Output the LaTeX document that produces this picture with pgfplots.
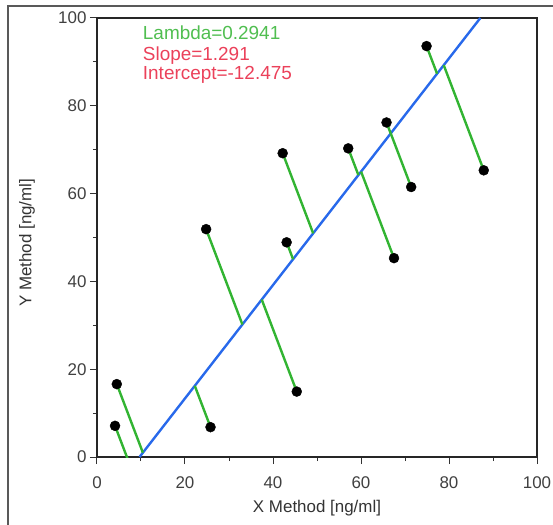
\documentclass[border=0pt]{standalone}
\usepackage{fontspec}
\setmainfont{Liberation Sans}
\usepackage{pgfplots}
\pgfplotsset{compat=1.18}
\definecolor{segGreen}{RGB}{50,180,50}
\definecolor{fitBlue}{RGB}{40,105,235}
\definecolor{txtGreen}{RGB}{80,190,80}
\definecolor{txtRed}{RGB}{235,65,90}
\begin{document}
\begin{tikzpicture}
\useasboundingbox (-97bp,-68bp) rectangle (456bp,457bp);
\draw[line width=1.6bp, color=black!65] (-89bp,-70bp) -- (-89bp,451bp) -- (460bp,451bp);
\begin{axis}[
  at={(0,0)}, anchor=south west,
  scale only axis, width=440bp, height=439bp,
  xmin=0, xmax=100, ymin=0, ymax=100,
  xtick={0,20,...,100}, ytick={0,20,...,100},
  minor xtick={10,30,...,90}, minor ytick={10,30,...,90},
  xtick pos=bottom, ytick pos=left,
  tick align=outside,
  major tick length=7bp, minor tick length=4bp,
  tick style={line width=1bp, black!80},
  axis line style={line width=1.2bp, black!85},
  /pgf/number format/assume math mode=true,
  ticklabel style={font=\fontsize{17}{17}\selectfont, text=black!75},
  xticklabel style={yshift=-9bp},
  label style={font=\fontsize{17}{17}\selectfont, text=black!80},
  xlabel={X Method [ng/ml]},
  ylabel={Y Method [ng/ml]},
  xlabel style={at={(axis description cs:0.5,-0.116)}, anchor=center},
  ylabel style={at={(axis description cs:-0.159,0.488)}, anchor=center},
  seg/.style={segGreen, line width=2.4bp, no marks},
]
% Deming regression line y = 1.291 x - 12.475
\addplot[fitBlue, line width=2.4bp, no marks] coordinates {(9.663,0) (87.123,100)};
% residual segments (point -> fitted point)
\addplot[seg] coordinates {(4.1,7.1) (7.739,-2.484)};
\addplot[seg] coordinates {(4.5,16.6) (10.428,0.987)};
\addplot[seg] coordinates {(25.8,6.8) (22.225,16.217)};
\addplot[seg] coordinates {(24.8,51.9) (33.044,30.186)};
\addplot[seg] coordinates {(45.4,14.9) (37.441,35.861)};
\addplot[seg] coordinates {(43.1,48.9) (44.561,45.053)};
\addplot[seg] coordinates {(42.2,69.2) (49.129,50.950)};
\addplot[seg] coordinates {(57.1,70.3) (59.408,64.221)};
\addplot[seg] coordinates {(67.5,45.3) (60.017,65.008)};
\addplot[seg] coordinates {(65.8,76.2) (66.750,73.699)};
\addplot[seg] coordinates {(71.4,61.5) (66.762,73.714)};
\addplot[seg] coordinates {(74.9,93.6) (77.290,87.306)};
\addplot[seg] coordinates {(87.9,65.3) (78.803,89.260)};
% data points
\addplot[only marks, mark=*, mark size=5bp, black] coordinates {
  (4.1,7.1) (4.5,16.6) (25.8,6.8) (24.8,51.9) (45.4,14.9) (43.1,48.9)
  (42.2,69.2) (57.1,70.3) (67.5,45.3) (65.8,76.2) (71.4,61.5) (74.9,93.6) (87.9,65.3)
};
\node[anchor=base west, text=txtGreen, font=\fontsize{19}{19}\selectfont, inner sep=0pt] at (axis cs:10.4,95.0) {Lambda=0.2941};
\node[anchor=base west, text=txtRed, font=\fontsize{19}{19}\selectfont, inner sep=0pt] at (axis cs:10.4,90.4) {Slope=1.291};
\node[anchor=base west, text=txtRed, font=\fontsize{19}{19}\selectfont, inner sep=0pt] at (axis cs:10.4,85.9) {Intercept=-12.475};
\end{axis}
\end{tikzpicture}
\end{document}
